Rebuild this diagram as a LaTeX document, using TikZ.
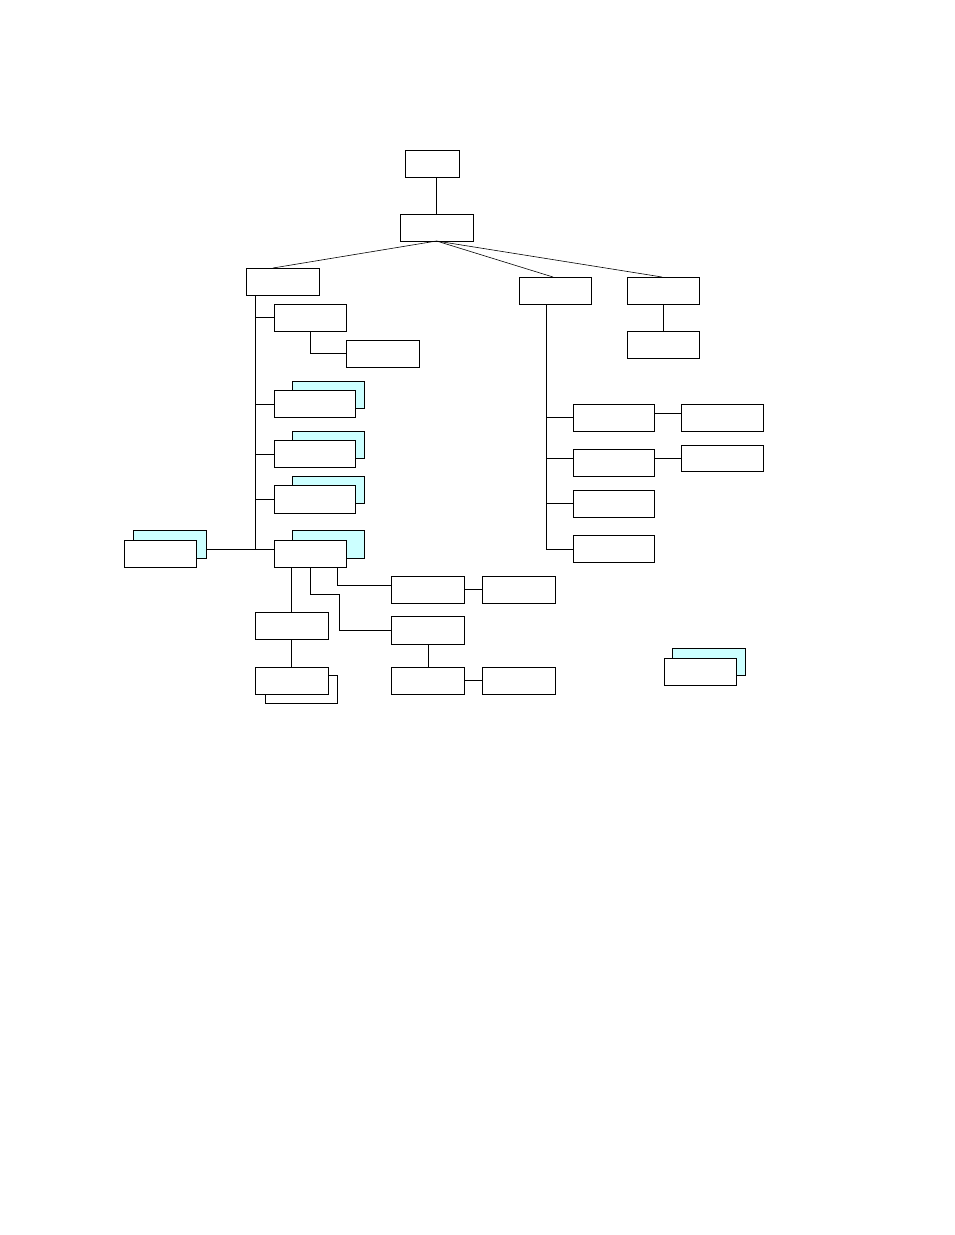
\documentclass[tikz,border=0pt]{standalone}
\definecolor{lightcyanbox}{HTML}{CCFFFF}
\begin{document}
\begin{tikzpicture}[x=1pt,y=-1pt,
  box/.style={draw,fill=white,line width=1pt,inner sep=0pt,outer sep=0pt,minimum width=73pt,minimum height=27pt},
  shadowbox/.style={box,fill=lightcyanbox},
  link/.style={line width=0.9pt},
  fan/.style={line width=0.6pt}]
\useasboundingbox (0,0) rectangle (954,1235);
\fill[white] (0,0) rectangle (954,1235);

% top part
\node[box,minimum width=54pt] (top) at (432,163.5) {};
\node[box] (root) at (436.5,227.5) {};
\node[box] (L) at (282.5,281.5) {};
\node[box,minimum width=72pt] (M) at (555,290.5) {};
\node[box,minimum width=72pt] (R) at (663,290.5) {};
\node[box,minimum width=72pt] (Rc) at (663,344.5) {};

\draw[link] (root.north |- top.south) -- (root.north);
\draw[fan] (root.south) -- ([xshift=-9.5pt]L.north);
\draw[fan] (root.south) -- ([xshift=-2pt]M.north);
\draw[fan] (root.south) -- ([xshift=-1pt]R.north);
\draw[link] (R.south) -- (Rc.north);

% left subtree
\node[box,minimum width=72pt] (L1) at (310,317.5) {};
\node[box] (L1a) at (382.5,353.5) {};

\node[shadowbox,minimum width=72pt] (S1) at (328,394.5) {};
\node[box,minimum width=81pt] (P1) at (314.5,403.5) {};
\node[shadowbox,minimum width=72pt] (S2) at (328,444.5) {};
\node[box,minimum width=81pt] (P2) at (314.5,453.5) {};
\node[shadowbox,minimum width=72pt] (S3) at (328,489.5) {};
\node[box,minimum width=81pt,minimum height=28pt] (P3) at (314.5,499) {};
\node[shadowbox,minimum width=72pt,minimum height=28pt] (S4) at (328,544) {};
\node[box,minimum width=72pt] (P4) at (310,553.5) {};

\node[shadowbox,minimum width=73pt,minimum height=28pt] (SL) at (169.5,544) {};
\node[box,minimum width=72pt] (PL) at (160,553.5) {};

\coordinate (tL) at ([xshift=9.5pt]L.south west);
\coordinate (tLend) at (255.5,549.3);
\draw[link] (tL) -- (tLend);
\draw[link] (L1.west) -- (L1.west -| tL);
\draw[link] (L1.south) |- (L1a.west);
\draw[link] ([yshift=-0.8pt]P1.west) -- ([yshift=-0.8pt]P1.west -| tL);
\draw[link] ([yshift=-1.2pt]P2.west) -- ([yshift=-1.2pt]P2.west -| tL);
\draw[link] (P3.west) -- (P3.west -| tL);
\draw[link] (SL.east |- tLend) -- (P4.west |- tLend);

% below P4
\node[box] (A) at (291.5,625.5) {};
\node[box,minimum width=72pt,minimum height=28pt,fill=white] (Bs) at (301,689.5) {};
\node[box] (B) at (291.5,680.5) {};
\node[box] (D) at (427.5,589.5) {};
\node[box] (E) at (518.5,589.5) {};
\node[box,minimum height=28pt] (C) at (427.5,630) {};
\node[box] (F) at (427.5,680.5) {};
\node[box] (G) at (518.5,680.5) {};

\draw[link] (A.north |- P4.south) -- (A.north);
\draw[link] (A.south) -- (B.north);
\coordinate (k1) at (310.3,594);
\coordinate (k2) at (339.3,594);
\draw[link] (k1 |- P4.south) -- (k1) -- (k2) |- (C.west);
\coordinate (k3) at (337.3,585.3);
\draw[link] (k3 |- P4.south) -- (k3) -- (D.west |- k3);
\draw[link] (D.east) -- (E.west);
\draw[link] ([xshift=1.2pt]C.south) -- ([xshift=1.2pt]F.north);
\draw[link] (F.east) -- (G.west);

% right subtree
\node[box,minimum width=81pt] (R1) at (613.5,417.5) {};
\node[box,minimum width=82pt] (R1b) at (722,417.5) {};
\node[box,minimum width=81pt] (R2) at (613.5,462.5) {};
\node[box,minimum width=82pt,minimum height=26pt] (R2b) at (722,458) {};
\node[box,minimum width=81pt] (R3) at (613.5,503.5) {};
\node[box,minimum width=81pt] (R4) at (613.5,548.5) {};

\coordinate (tM) at ([xshift=-9pt]M.south);
\coordinate (tMend) at (546,549.3);
\draw[link] (tM) -- (tMend);
\draw[link] (R1.west) -- (R1.west -| tM);
\draw[link] (R2.west |- R2b.west) -- (R2b.west -| tM);
\draw[link] (R2.east |- R2b.west) -- (R2b.west);
\draw[link] (R3.west) -- (R3.west -| tM);
\draw[link] (tMend) -- (R4.west |- tMend);
\draw[link] ([yshift=4pt]R1.east) -- ([yshift=4pt]R1b.west);

% legend
\node[shadowbox] (LGs) at (708.5,661.5) {};
\node[box,minimum width=72pt] (LG) at (700,671.5) {};
\end{tikzpicture}
\end{document}
